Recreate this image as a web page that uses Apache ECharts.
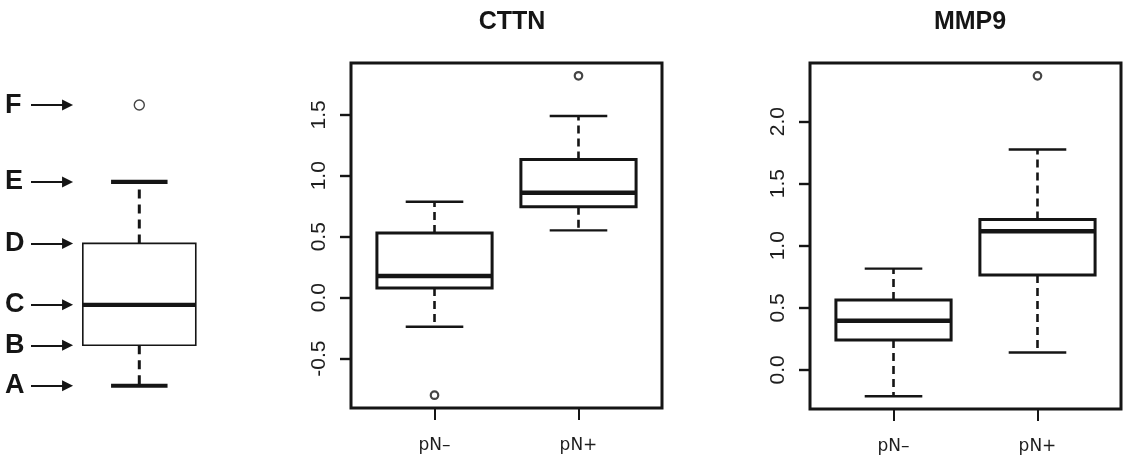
<!DOCTYPE html>
<html>
<head>
<meta charset="utf-8">
<title>CTTN / MMP9 boxplots</title>
<script src="https://cdn.jsdelivr.net/npm/echarts@6/dist/echarts.min.js"></script>
<style>
  html, body { margin: 0; padding: 0; background: #ffffff; }
  #chart { width: 1125px; height: 461px; }
</style>
</head>
<body>
<div id="chart"></div>
<script>
// ---- data -------------------------------------------------------------
const groups = ['pN–', 'pN+'];

// five-number summaries: [lower whisker, Q1, median, Q3, upper whisker]
const cttnNeg = [-0.238, 0.080, 0.178, 0.530, 0.787];
const cttnPos = [0.552, 0.746, 0.860, 1.134, 1.490];
const cttnOutliers = [[1, -0.800], [2, 1.820]];

const mmp9Neg = [-0.212, 0.240, 0.396, 0.563, 0.816];
const mmp9Pos = [0.140, 0.765, 1.117, 1.212, 1.775];
const mmp9Outliers = [[2, 2.369]];

const cttnTicks = [-0.5, 0.0, 0.5, 1.0, 1.5];
const mmp9Ticks = [0.0, 0.5, 1.0, 1.5, 2.0];

// explanatory diagram: whisker/box/median levels and one outlier
const legendLetters = ['A', 'B', 'C', 'D', 'E', 'F'];
const legendStats = [0, 1.0, 2.0, 3.52, 5.04];
const legendOutlier = 6.94;

// ---- helpers ----------------------------------------------------------
const INK = '#151515';
const BOX_FRAC = 0.8;

// y-range padded by 4% of the data span, as in base R graphics
function paddedRange(stats, outliers) {
  const vals = stats.flat().concat(outliers.map(o => o[1]));
  const lo = Math.min(...vals), hi = Math.max(...vals);
  const pad = (hi - lo) * 0.04;
  return [lo - pad, hi + pad];
}

function boxRenderer(st) {
  return function (params, api) {
    const x = api.value(0);
    const lo = api.coord([x, api.value(1)]);
    const q1 = api.coord([x, api.value(2)]);
    const med = api.coord([x, api.value(3)]);
    const q3 = api.coord([x, api.value(4)]);
    const hi = api.coord([x, api.value(5)]);
    const bw = api.size([BOX_FRAC, 0])[0];
    const cx = lo[0];
    const line = (x1, y1, x2, y2, w, dash) => ({
      type: 'line',
      shape: { x1, y1, x2, y2 },
      style: { stroke: INK, lineWidth: w, lineDash: dash || null, fill: null }
    });
    return {
      type: 'group',
      children: [
        line(cx, q3[1], cx, hi[1], st.whisk, st.dash),
        line(cx, q1[1], cx, lo[1], st.whisk, st.dash),
        line(cx - bw / 4, hi[1], cx + bw / 4, hi[1], st.cap),
        line(cx - bw / 4, lo[1], cx + bw / 4, lo[1], st.cap),
        {
          type: 'rect',
          shape: { x: cx - bw / 2, y: q3[1], width: bw, height: q1[1] - q3[1] },
          style: { stroke: INK, lineWidth: st.box, fill: '#ffffff' }
        },
        line(cx - bw / 2, med[1], cx + bw / 2, med[1], st.med)
      ]
    };
  };
}

const panelStyle = { box: 3, med: 4.5, whisk: 2.6, cap: 2.4, dash: [8, 5] };
const legendStyle = { box: 1.6, med: 4.2, whisk: 3, cap: 4.2, dash: [9, 6] };

const cttnRange = paddedRange([cttnNeg, cttnPos], cttnOutliers);
const mmp9Range = paddedRange([mmp9Neg, mmp9Pos], mmp9Outliers);

function panelXAxis(gridIndex) {
  return {
    type: 'value', gridIndex, min: 0.42, max: 2.58, position: 'bottom',
    axisLine: { show: false, onZero: false },
    splitLine: { show: false },
    axisTick: { show: true, customValues: [1, 2], length: 12, lineStyle: { color: INK, width: 2 } },
    axisLabel: {
      customValues: [1, 2], margin: 29,
      formatter: v => groups[Math.round(v) - 1],
      fontFamily: 'DejaVu Sans', fontSize: 17, color: '#1e1e1e'
    }
  };
}

function panelYAxis(gridIndex, range, ticks) {
  return {
    type: 'value', gridIndex, min: range[0], max: range[1], position: 'left',
    axisLine: { show: false, onZero: false },
    splitLine: { show: false },
    axisTick: { show: true, customValues: ticks, length: 11, lineStyle: { color: INK, width: 2.4 } },
    axisLabel: {
      customValues: ticks, rotate: 90, margin: 21,
      formatter: v => v.toFixed(1),
      fontFamily: 'Liberation Sans', fontSize: 21, color: '#1e1e1e'
    }
  };
}

const hiddenAxis = (gridIndex, min, max) => ({
  type: 'value', gridIndex, min, max, show: false,
  axisLine: { onZero: false },
  splitLine: { show: false }
});

const legendMin = -0.55, legendMax = 7.98;
const legendLevels = legendStats.concat([legendOutlier]);

const option = {
  animation: false,
  backgroundColor: '#ffffff',
  title: [
    { text: 'CTTN', left: 507, top: 5, textAlign: 'center',
      textStyle: { fontFamily: 'Liberation Sans', fontWeight: 'bold', fontSize: 25, color: INK } },
    { text: 'MMP9', left: 965, top: 5, textAlign: 'center',
      textStyle: { fontFamily: 'Liberation Sans', fontWeight: 'bold', fontSize: 25, color: INK } }
  ],
  grid: [
    // CTTN panel
    { left: 351, top: 63, width: 311, height: 345, show: true, borderColor: INK, borderWidth: 3, backgroundColor: 'transparent' },
    // MMP9 panel
    { left: 810, top: 63, width: 311, height: 346, show: true, borderColor: INK, borderWidth: 3, backgroundColor: 'transparent' },
    // diagram box
    { left: 68.7, top: 63, width: 141.2, height: 345 },
    // diagram letters and arrows
    { left: 31, top: 63, width: 42, height: 345 }
  ],
  xAxis: [
    panelXAxis(0),
    panelXAxis(1),
    hiddenAxis(2, 0.5, 1.5),
    hiddenAxis(3, 0, 1)
  ],
  yAxis: [
    panelYAxis(0, cttnRange, cttnTicks),
    panelYAxis(1, mmp9Range, mmp9Ticks),
    hiddenAxis(2, legendMin, legendMax),
    {
      type: 'value', gridIndex: 3, min: legendMin, max: legendMax,
      axisLine: { show: false, onZero: false }, axisTick: { show: false }, splitLine: { show: false },
      axisLabel: {
        customValues: legendLevels,
        align: 'left', margin: 26,
        formatter: v => {
          let best = 0;
          legendLevels.forEach((l, i) => { if (Math.abs(l - v) < Math.abs(legendLevels[best] - v)) best = i; });
          return legendLetters[best];
        },
        fontFamily: 'Liberation Sans', fontWeight: 'bold', fontSize: 27, color: INK
      }
    }
  ],
  series: [
    {
      type: 'custom', xAxisIndex: 0, yAxisIndex: 0,
      renderItem: boxRenderer(panelStyle),
      encode: { x: 0, y: [1, 2, 3, 4, 5] },
      data: [[1].concat(cttnNeg), [2].concat(cttnPos)]
    },
    {
      type: 'scatter', xAxisIndex: 0, yAxisIndex: 0,
      symbol: 'circle', symbolSize: 7.5,
      itemStyle: { color: '#ffffff', borderColor: INK, borderWidth: 2.2 },
      data: cttnOutliers
    },
    {
      type: 'custom', xAxisIndex: 1, yAxisIndex: 1,
      renderItem: boxRenderer(panelStyle),
      encode: { x: 0, y: [1, 2, 3, 4, 5] },
      data: [[1].concat(mmp9Neg), [2].concat(mmp9Pos)]
    },
    {
      type: 'scatter', xAxisIndex: 1, yAxisIndex: 1,
      symbol: 'circle', symbolSize: 7.5,
      itemStyle: { color: '#ffffff', borderColor: INK, borderWidth: 2.2 },
      data: mmp9Outliers
    },
    {
      type: 'custom', xAxisIndex: 2, yAxisIndex: 2,
      renderItem: boxRenderer(legendStyle),
      encode: { x: 0, y: [1, 2, 3, 4, 5] },
      data: [[1].concat(legendStats)]
    },
    {
      type: 'scatter', xAxisIndex: 2, yAxisIndex: 2,
      symbol: 'circle', symbolSize: 10,
      itemStyle: { color: '#ffffff', borderColor: INK, borderWidth: 1.4 },
      data: [[1, legendOutlier]]
    },
    {
      // arrows pointing from each letter to its level
      type: 'lines', coordinateSystem: 'cartesian2d', xAxisIndex: 3, yAxisIndex: 3,
      symbol: ['none', 'triangle'], symbolSize: 11,
      lineStyle: { color: INK, width: 2.2, opacity: 1 },
      data: legendLevels.map(v => ({ coords: [[0, v], [0.87, v]] }))
    }
  ]
};

const chart = echarts.init(document.getElementById('chart'), null, { renderer: 'canvas' });
chart.setOption(option);
</script>
</body>
</html>
